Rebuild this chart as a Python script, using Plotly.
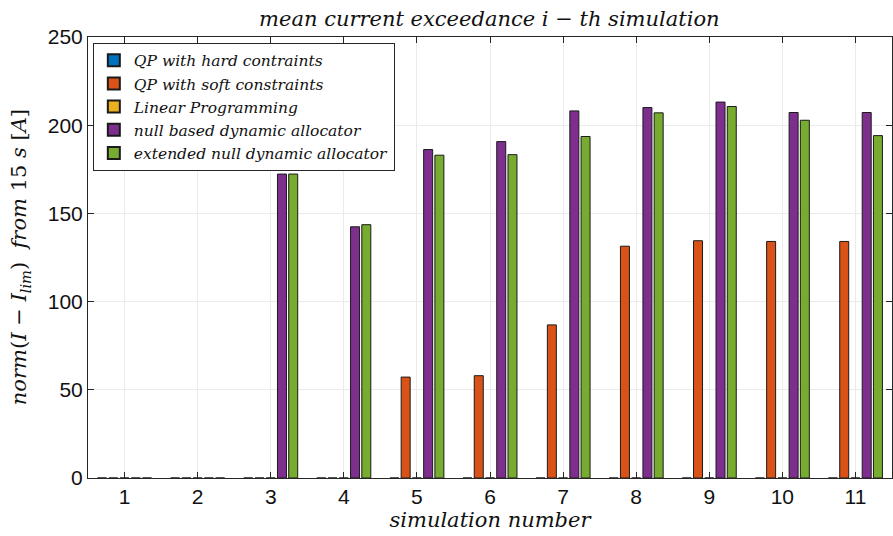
import plotly.graph_objects as go

# simulation index
simulations = [1, 2, 3, 4, 5, 6, 7, 8, 9, 10, 11]

# mean current exceedance per allocator [A]
qp_hard = [0, 0, 0, 0, 0, 0, 0, 0, 0, 0, 0]
qp_soft = [0, 0, 0, 0, 57.2, 58.0, 86.8, 131.4, 134.5, 134.1, 134.1]
linear_prog = [0, 0, 0, 0, 0, 0, 0, 0, 0, 0, 0]
null_based = [0, 0, 172.3, 142.4, 186.2, 190.7, 208.1, 210.0, 213.1, 207.2, 207.2]
extended_null = [0, 0, 172.3, 143.6, 183.0, 183.3, 193.6, 207.0, 210.6, 202.8, 194.1]

series_names = [
    "QP with hard contraints",
    "QP with soft constraints",
    "Linear Programming",
    "null based dynamic allocator",
    "extended null dynamic allocator",
]
series_values = [qp_hard, qp_soft, linear_prog, null_based, extended_null]
series_colors = ["#0072BD", "#D95319", "#EDB120", "#7E2F8E", "#77AC30"]

y_ticks = [0, 50, 100, 150, 200, 250]

serif = "DejaVu Serif, serif"
sans = "Liberation Sans, Arial, sans-serif"
sp = "\u00a0"

fig = go.Figure()
for name, vals, col in zip(series_names, series_values, series_colors):
    fig.add_trace(go.Bar(
        x=simulations,
        y=vals,
        name=f"<i>{name}</i>",
        marker=dict(color=col, line=dict(color="#1a1a1a", width=1)),
    ))

fig.update_layout(
    width=893,
    height=536,
    margin=dict(l=88, r=1, t=37, b=58),
    paper_bgcolor="white",
    plot_bgcolor="white",
    barmode="group",
    bargap=0.231,
    bargroupgap=0.2,
    title=dict(
        text=f"<i>mean{sp}current{sp}exceedance{sp}i</i>{sp}−{sp}<i>th{sp}simulation</i>",
        x=0.548, xanchor="center", y=0.966, yanchor="middle",
        font=dict(family=serif, size=21, color="#111111"),
    ),
    legend=dict(
        x=0.006, y=0.987, xanchor="left", yanchor="top",
        bgcolor="white", bordercolor="#262626", borderwidth=1,
        font=dict(family=serif, size=15.5, color="#111111"),
        tracegroupgap=0, itemsizing="constant", itemwidth=30,
    ),
    showlegend=True,
)

# vertical axis label placed near the left edge
fig.add_annotation(
    text=f"<i>norm</i>(<i>I</i>{sp}−{sp}<i>I</i><sub><i>lim</i></sub>){sp}{sp}<i>from</i>{sp}15{sp}<i>s</i>{sp}[<i>A</i>]",
    xref="paper", yref="paper", x=-0.085, y=0.5,
    xanchor="center", yanchor="middle", textangle=-90, showarrow=False,
    font=dict(family=serif, size=21, color="#111111"),
)

fig.update_xaxes(
    range=[0.5, 11.5],
    tickmode="array", tickvals=simulations, ticktext=[str(s) for s in simulations],
    ticks="inside", ticklen=6, tickcolor="#262626",
    showgrid=True, gridcolor="#ebebeb", gridwidth=1,
    showline=True, linecolor="#262626", linewidth=1, mirror="ticks",
    tickfont=dict(family=sans, size=21, color="#111111"),
    title=dict(text=f"<i>simulation{sp}number</i>",
               font=dict(family=serif, size=21, color="#111111"), standoff=2),
    zeroline=False,
)
fig.update_yaxes(
    range=[0, 250],
    tickmode="array", tickvals=y_ticks,
    ticks="inside", ticklen=6, tickcolor="#262626",
    showgrid=True, gridcolor="#ebebeb", gridwidth=1,
    showline=True, linecolor="#262626", linewidth=1, mirror="ticks",
    tickfont=dict(family=sans, size=21, color="#111111"),
    zeroline=False,
)

fig.write_html("out.html")
